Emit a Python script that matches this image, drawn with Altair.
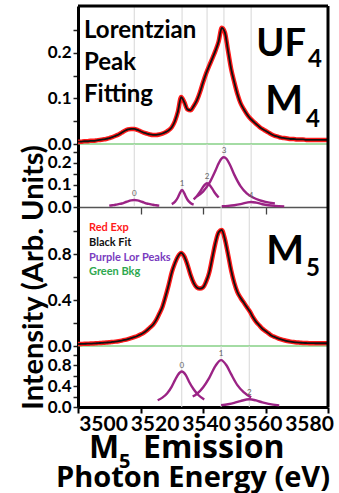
import altair as alt
import pandas as pd

FONT = "Lato"
FONT_WIDE = "Open Sans"
W = 250
H_M4, H_M4P, H_M5, H_M5P = 138, 63, 139, 61

RED = "#ff1a1a"
BLACK = "#111111"
PURPLE = "#9b2385"
PURPLE_TXT = "#7a3cc0"
GREEN = "#86d186"
GREEN_TXT = "#2ea84f"
GRID = "#d6d6d6"

# ---------------- data ----------------
energy = list(range(3500, 3581))
m4_fit = [0.005, 0.005, 0.006, 0.006, 0.007, 0.007, 0.008, 0.009, 0.010, 0.011,
          0.013, 0.015, 0.018, 0.021, 0.025, 0.029, 0.032, 0.033, 0.033, 0.031,
          0.028, 0.025, 0.023, 0.021, 0.020, 0.020, 0.021, 0.023, 0.026, 0.030,
          0.037, 0.050, 0.072, 0.103, 0.092, 0.076, 0.074, 0.083, 0.095, 0.113,
          0.135, 0.155, 0.172, 0.188, 0.205, 0.225, 0.255, 0.245, 0.205, 0.165,
          0.136, 0.110, 0.090, 0.077, 0.066, 0.057, 0.050, 0.044, 0.038, 0.033,
          0.029, 0.025, 0.021, 0.018, 0.016, 0.014, 0.013, 0.012, 0.011, 0.011,
          0.010, 0.010, 0.010, 0.009, 0.009, 0.009, 0.009, 0.009, 0.009, 0.009, 0.009]
m5_fit = [0.017, 0.018, 0.019, 0.020, 0.021, 0.022, 0.024, 0.026, 0.028, 0.030,
          0.032, 0.035, 0.038, 0.042, 0.047, 0.053, 0.060, 0.068, 0.077, 0.087,
          0.100, 0.115, 0.135, 0.160, 0.185, 0.225, 0.280, 0.340, 0.430, 0.530,
          0.640, 0.720, 0.780, 0.810, 0.780, 0.710, 0.620, 0.550, 0.510, 0.500,
          0.510, 0.560, 0.640, 0.770, 0.900, 0.990, 1.010, 0.930, 0.800, 0.660,
          0.550, 0.470, 0.420, 0.380, 0.340, 0.300, 0.250, 0.210, 0.180, 0.150,
          0.130, 0.110, 0.090, 0.078, 0.067, 0.058, 0.050, 0.043, 0.038, 0.034,
          0.031, 0.029, 0.027, 0.026, 0.025, 0.025, 0.024, 0.024, 0.024, 0.024, 0.024]
bkg_x = [3500, 3580]
m4_bkg = [0.0, 0.0]
m5_bkg = [0.0, 0.0]

# M4 Lorentzian peaks
m4_p0_x = [3510, 3511, 3512, 3513, 3514, 3515, 3516, 3517, 3518, 3519, 3520, 3521, 3522, 3523, 3524, 3525, 3526]
m4_p0_y = [0.006, 0.008, 0.010, 0.013, 0.016, 0.021, 0.026, 0.030, 0.032, 0.030, 0.026, 0.021, 0.016, 0.013, 0.010, 0.008, 0.006]
m4_p1_x = [3530, 3531, 3532, 3532.5, 3533.3, 3534, 3534.5, 3535, 3536, 3537]
m4_p1_y = [0.013, 0.023, 0.044, 0.060, 0.077, 0.063, 0.047, 0.034, 0.018, 0.011]
m4_p2_x = [3537, 3538, 3539, 3540, 3541.3, 3542, 3543, 3544, 3545]
m4_p2_y = [0.035, 0.049, 0.068, 0.091, 0.108, 0.102, 0.082, 0.060, 0.043]
m4_p3_x = [3538, 3540, 3542, 3544, 3545, 3546, 3546.7, 3547.5, 3548.5, 3550, 3552, 3554, 3556, 3558, 3560, 3563]
m4_p3_y = [0.048, 0.070, 0.108, 0.166, 0.198, 0.221, 0.226, 0.219, 0.195, 0.147, 0.095, 0.062, 0.043, 0.031, 0.023, 0.016]
m4_p4_x = [3546, 3548, 3550, 3552, 3554, 3555.4, 3557, 3559, 3561, 3563, 3566]
m4_p4_y = [0.0035, 0.0052, 0.0081, 0.013, 0.020, 0.023, 0.020, 0.0127, 0.0078, 0.005, 0.0029]

# M5 Lorentzian peaks
m5_p0_x = [3525.5, 3527, 3528.5, 3530, 3531, 3532, 3533.2, 3534.5, 3535.5, 3537, 3538.5, 3540.4]
m5_p0_y = [0.13, 0.18, 0.26, 0.39, 0.51, 0.62, 0.68, 0.61, 0.49, 0.34, 0.23, 0.145]
m5_p1_x = [3536.7, 3538, 3540, 3542, 3544, 3545.8, 3547.5, 3549, 3551, 3553, 3555.4]
m5_p1_y = [0.20, 0.25, 0.375, 0.56, 0.79, 0.90, 0.80, 0.63, 0.42, 0.285, 0.185]
m5_p2_x = [3545.8, 3548, 3550, 3552, 3554.8, 3557, 3559, 3561, 3564.4]
m5_p2_y = [0.035, 0.053, 0.078, 0.114, 0.150, 0.126, 0.088, 0.059, 0.032]

m4_centers = [3518, 3533.3, 3541.3, 3546.7, 3555.4]
m4_heights = [0.032, 0.077, 0.108, 0.226, 0.023]
m4_labels = ["0", "1", "2", "3", "4"]
m5_centers = [3533.2, 3545.8, 3554.8]
m5_heights = [0.68, 0.90, 0.15]
m5_labels = ["0", "1", "2"]

x_ticks = [3500, 3520, 3540, 3560, 3580]
mid_ticks = [3520, 3540, 3560]
m4_yticks = [0, 0.05, 0.1, 0.15, 0.2, 0.25]
m4p_yticks = [0, 0.05, 0.1, 0.15, 0.2, 0.25]
m5_yticks = [0, 0.2, 0.4, 0.6, 0.8, 1.0]
m5p_yticks = [0, 0.2, 0.4, 0.6, 0.8, 1.0]

# ---------------- helpers ----------------
xs = alt.Scale(domain=[3500, 3580], nice=False, zero=False)


def ysc(top):
    return alt.Scale(domain=[0, top], nice=False, zero=False)


def lab_expr(step):
    return ("abs(datum.value/%s - round(datum.value/%s)) < 0.001 ? format(datum.value, '.1f') : ''"
            % (step, step))


def peaks_df(pairs):
    rows = []
    for i, (px, py) in enumerate(pairs):
        for a, b in zip(px, py):
            rows.append({"E": a, "I": b, "pk": str(i)})
    return pd.DataFrame(rows)


def text_layer(text, x, y, size, color="black", align="left", weight="bold", font=FONT):
    return alt.Chart(pd.DataFrame({"t": [text]})).mark_text(
        align=align, baseline="alphabetic", fontSize=size, font=font,
        fontWeight=weight, color=color
    ).encode(x=alt.value(x), y=alt.value(y), text="t:N")


def right_frame(h):
    return alt.Chart(pd.DataFrame({"a": [0]})).mark_rule(color="black", strokeWidth=3).encode(
        x=alt.value(W), y=alt.value(0), y2=alt.value(h))


def data_panel(fit, bkg, centers, yscale, yaxis, h, extra):
    X = lambda f: alt.X(f, scale=xs, axis=None)
    Y = lambda f: alt.Y(f, scale=yscale, axis=yaxis)
    df_fit = pd.DataFrame({"E": energy, "I": fit})
    df_bkg = pd.DataFrame({"E": bkg_x, "I": bkg})
    vlines = alt.Chart(pd.DataFrame({"c": centers})).mark_rule(color=GRID, strokeWidth=1).encode(x=X("c:Q"))
    bk = alt.Chart(df_bkg).mark_line(color=GREEN, strokeWidth=1.6).encode(x=X("E:Q"), y=Y("I:Q"))
    ex = alt.Chart(df_fit).mark_line(color=RED, strokeWidth=4.5, interpolate="monotone").encode(
        x=X("E:Q"), y=Y("I:Q"))
    ft = alt.Chart(df_fit).mark_line(color=BLACK, strokeWidth=1.8, interpolate="monotone").encode(
        x=X("E:Q"), y=Y("I:Q"))
    layers = [vlines, bk, ex, ft, right_frame(h)] + extra
    return alt.layer(*layers).properties(width=W, height=h)


def peak_panel(pairs, centers, heights, labels, yscale, yaxis, xaxis, h, extra):
    X = lambda f: alt.X(f, scale=xs, axis=xaxis)
    Y = lambda f: alt.Y(f, scale=yscale, axis=yaxis)
    vlines = alt.Chart(pd.DataFrame({"c": centers})).mark_rule(color=GRID, strokeWidth=1).encode(x=X("c:Q"))
    lines = alt.Chart(peaks_df(pairs)).mark_line(color=PURPLE, strokeWidth=2.4, interpolate="monotone").encode(
        x=X("E:Q"), y=Y("I:Q"), detail="pk:N")
    labs = alt.Chart(pd.DataFrame({"c": centers, "h": heights, "lab": labels})).mark_text(
        fontSize=8, color="#666666", dy=-6, font=FONT).encode(x=X("c:Q"), y=Y("h:Q"), text="lab:N")
    layers = [vlines, lines, labs, right_frame(h)] + extra
    return alt.layer(*layers).properties(width=W, height=h)


# ---------------- panels ----------------
ax_m4 = alt.Axis(values=m4_yticks, labelExpr=lab_expr(0.1), title=None)
ax_m4p = alt.Axis(values=m4p_yticks, labelExpr=lab_expr(0.1), title=None)
ax_m5 = alt.Axis(values=m5_yticks, labelExpr=lab_expr(0.4), title="Intensity (Arb. Units)",
                 titleFontSize=29, titleFont=FONT, titleFontWeight="bold", titleColor="black",
                 titleX=-30, titleY=70)
ax_m5p = alt.Axis(values=m5p_yticks, labelExpr=lab_expr(0.4), title=None)

ax_mid = alt.Axis(values=mid_ticks, labels=False, tickSize=7, tickColor="#444444", tickWidth=1.3,
                  domainColor="#555555", domainWidth=1.3, title=None, grid=False)
ax_bottom = alt.Axis(
    values=x_ticks, format="d", title=None, grid=False, labelOverlap=False, labelFlush=False,
    labelFontSize=21, labelPadding=0, tickSize=6, tickColor="black", tickWidth=2,
    domainColor="black", domainWidth=3, labelAlign="center",
    labelOffset={"condition": [{"test": "datum.value == 3500", "value": 25},
                               {"test": "datum.value == 3520", "value": 14},
                               {"test": "datum.value == 3560", "value": -8},
                               {"test": "datum.value == 3580", "value": -19}],
                 "value": 3},
)

top_rule = alt.Chart(pd.DataFrame({"a": [0]})).mark_rule(color="black", strokeWidth=3).encode(
    x=alt.value(0), x2=alt.value(W), y=alt.value(0))

p1 = data_panel(m4_fit, m4_bkg, m4_centers, ysc(0.303), ax_m4, H_M4, [
    top_rule,
    text_layer("Lorentzian", 6, 32, 24),
    text_layer("Peak", 6, 64, 24),
    text_layer("Fitting", 6, 96, 24),
    text_layer("UF", 228, 50, 38, align="right"),
    text_layer("4", 230, 61, 24),
    text_layer("M", 225, 108, 40, align="right"),
    text_layer("4", 228, 121, 24),
])

p2 = peak_panel([(m4_p0_x, m4_p0_y), (m4_p1_x, m4_p1_y), (m4_p2_x, m4_p2_y),
                 (m4_p3_x, m4_p3_y), (m4_p4_x, m4_p4_y)],
                m4_centers, m4_heights, m4_labels, ysc(0.286), ax_m4p, ax_mid, H_M4P, [])

p3 = data_panel(m5_fit, m5_bkg, m5_centers, ysc(1.21), ax_m5, H_M5, [
    text_layer("Red  Exp", 11, 24, 11, color=RED),
    text_layer("Black Fit", 11, 39, 11, color=BLACK),
    text_layer("Purple Lor Peaks", 11, 54, 11, color=PURPLE_TXT),
    text_layer("Green Bkg", 11, 68, 11, color=GREEN_TXT),
    text_layer("M", 226, 57, 40, align="right"),
    text_layer("5", 228, 69, 24),
])

p4 = peak_panel([(m5_p0_x, m5_p0_y), (m5_p1_x, m5_p1_y), (m5_p2_x, m5_p2_y)],
                m5_centers, m5_heights, m5_labels, ysc(1.17), ax_m5p, ax_bottom, H_M5P, [
    text_layer("M", 11, 112, 32, font=FONT_WIDE),
    text_layer("5", 41, 122, 20, font=FONT_WIDE),
    text_layer("Emission", 65, 112, 32, font=FONT_WIDE),
    text_layer("Photon Energy (eV)", -22, 141, 29, font=FONT_WIDE),
])

chart = alt.vconcat(p1, p2, p3, p4, spacing=0, bounds="flush").properties(
    padding={"left": 18, "top": 4, "right": 0, "bottom": 0}
).configure_view(stroke=None).configure_axis(
    labelFont=FONT, labelFontWeight="bold", labelColor="black", labelFontSize=17,
    tickColor="#222222", tickWidth=1.5, tickSize=5, domainColor="black", domainWidth=3,
    grid=False, labelPadding=2
)

chart.save("out.html", embed_options={"renderer": "svg", "actions": False})
